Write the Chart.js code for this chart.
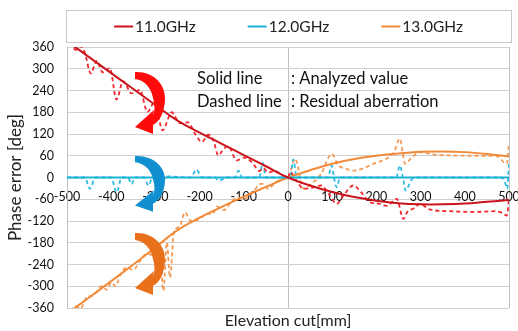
<!DOCTYPE html>
<html>
<head>
<meta charset="utf-8">
<script src="https://cdn.jsdelivr.net/npm/chart.js@4.4.0/dist/chart.umd.min.js"></script>
<style>
  html, body { margin: 0; padding: 0; background: #fff; }
</style>
</head>
<body>
<canvas id="phaseChart" width="518" height="331"></canvas>
<script>
// elevation cut [mm] for the analyzed (solid) curves
const elevation = [-500, -450, -400, -350, -300, -250, -200, -150, -100, -50, 0, 50, 100, 150, 200, 250, 300, 350, 400, 450, 500];
const analyzed11 = [376, 332, 288, 244, 200, 157, 124, 93, 62, 31, 0, -22, -40, -54, -64, -71, -74, -74, -72, -67, -62];
const analyzed12 = [0, 0, 0, 0, 0, 0, 0, 0, 0, 0, 0, 0, 0, 0, 0, 0, 0, 0, 0, 0, 0];
const analyzed13 = [-376, -331, -286, -240, -193, -145, -111, -81, -53, -26, 0, 20, 38, 51, 60, 66, 71, 72, 70, 65, 58];

// residual aberration (dashed), read at peaks and valleys
const resid11X = [-500, -490, -480, -470, -460, -446, -433, -419, -403, -388, -373, -354, -335, -318, -301, -284, -263, -245, -226, -210, -195, -180, -168, -158, -145, -135, -116, -100, -80, -65, -56, -45, -30, -15, 0, 5, 20, 35, 55, 75, 95, 110, 128, 148, 165, 185, 205, 223, 246, 261, 270, 285, 299, 320, 366, 420, 470, 485, 495, 500];
const resid11Y = [390, 365, 352, 362, 345, 287, 322, 290, 302, 215, 266, 232, 242, 181, 210, 130, 180, 150, 152, 120, 98, 118, 100, 61, 80, 86, 47, 55, 40, 18, 26, 14, 18, 8, 0, 15, -10, -31, -28, -22, -50, -73, -45, -22, -40, -68, -72, -78, -59, -114, -95, -85, -73, -88, -93, -95, -93, -98, -105, -59];

const resid12X = [-500, -460, -448, -436, -400, -388, -376, -362, -354, -346, -325, -316, -306, -294, -286, -278, -270, -220, -207, -195, -165, -158, -150, -140, -120, -112, -104, -65, -57, -50, 5, 12, 20, 90, 99, 104, 110, 118, 245, 253, 260, 266, 280, 290, 480, 490, 496, 500];
const resid12Y = [0, 0, -31, 0, 0, -41, 0, 0, -18, 0, 0, -22, 0, 0, -27, 0, 3, 0, 22, 0, 0, -8, -6, 0, 0, 19, 0, 0, 40, 0, 0, 50, 0, 0, 33, 0, -27, 0, 0, 33, 0, -36, -5, 0, 0, -10, -31, 38];

const resid13X = [-500, -490, -480, -470, -455, -440, -421, -410, -400, -390, -380, -365, -350, -335, -320, -300, -290, -282, -274, -267, -258, -245, -233, -220, -200, -185, -170, -161, -145, -130, -116, -100, -80, -60, -45, -30, -15, 0, 16, 35, 55, 75, 99, 114, 130, 148, 170, 193, 220, 240, 253, 265, 280, 299, 330, 366, 420, 470, 495, 500];
const resid13Y = [-385, -365, -355, -362, -330, -325, -299, -310, -290, -300, -270, -248, -255, -230, -211, -215, -200, -313, -179, -276, -150, -135, -96, -120, -115, -100, -100, -80, -90, -70, -55, -60, -40, -17, -31, -15, -5, 0, 52, -31, -15, 10, 65, 33, 25, 19, 25, 38, 50, 70, 107, 38, 55, 70, 63, 61, 60, 60, 38, 95];

const seriesNames = ['11.0GHz', '12.0GHz', '13.0GHz'];
const xMin = -500, xMax = 500, xStep = 100;
const yMin = -360, yMax = 360, yStep = 60;

const lineColors = ['#c8141c', '#1cb4d6', '#f28a3a'];
const dashColors = ['#f2282f', '#2ebce0', '#f49a55'];
const arrowColors = ['#ff0a0a', '#1090d0', '#e8701a'];

Chart.defaults.font.family = 'Lato';

function pts(xs, ys) {
    return xs.map((x, i) => ({x: x, y: ys[i]}));
}

const solidSets = [analyzed11, analyzed12, analyzed13].map((ys, i) => ({
    label: seriesNames[i],
    data: pts(elevation, ys),
    borderColor: lineColors[i],
    borderWidth: 2,
    pointRadius: 0,
    tension: 0.4
}));

const dashSets = [[resid11X, resid11Y], [resid12X, resid12Y], [resid13X, resid13Y]].map((d, i) => ({
    label: seriesNames[i] + ' residual',
    data: pts(d[0], d[1]),
    borderColor: dashColors[i],
    borderWidth: 1.8,
    borderDash: [4, 3],
    pointRadius: 0,
    cubicInterpolationMode: 'monotone'
}));

// curved arrow, drawn from its top-left corner
function curvedArrow(ctx, ox, oy, sy, color) {
    ctx.save();
    ctx.translate(ox, oy);
    ctx.scale(1, sy);
    ctx.beginPath();
    ctx.moveTo(0, 0);
    ctx.bezierCurveTo(18, -1, 31, 12, 30, 28);
    ctx.bezierCurveTo(29, 41, 25, 49, 18, 53);
    ctx.lineTo(18, 62);
    ctx.lineTo(0, 55);
    ctx.lineTo(19, 38);
    ctx.lineTo(18, 44);
    ctx.bezierCurveTo(20, 39, 20, 33, 18, 26);
    ctx.bezierCurveTo(16, 15, 9, 8, 0, 7);
    ctx.closePath();
    ctx.fillStyle = color;
    ctx.fill();
    ctx.restore();
}

const decorations = {
    id: 'decorations',
    afterDraw(chart) {
        const ctx = chart.ctx;
        const area = chart.chartArea;
        ctx.save();

        // legend box
        ctx.strokeStyle = '#c8c8c8';
        ctx.lineWidth = 1;
        ctx.strokeRect(66.5, 10.5, 445, 32);
        ctx.font = '15.5px Lato';
        ctx.textBaseline = 'middle';
        const lineW = 19, gapText = 2, gapItem = 52;
        const widths = seriesNames.map(n => lineW + gapText + ctx.measureText(n).width);
        const total = widths.reduce((a, b) => a + b, 0) + gapItem * (widths.length - 1);
        let lx = 66 + (445 - total) / 2;
        seriesNames.forEach((n, i) => {
            ctx.strokeStyle = lineColors[i];
            ctx.lineWidth = 2;
            ctx.beginPath();
            ctx.moveTo(lx, 26.5);
            ctx.lineTo(lx + lineW, 26.5);
            ctx.stroke();
            ctx.fillStyle = '#222';
            ctx.textAlign = 'left';
            ctx.fillText(n, lx + lineW + gapText, 27);
            lx += widths[i] + gapItem;
        });

        // annotation text
        ctx.fillStyle = '#111';
        ctx.font = '16.5px Lato';
        ctx.fillText('Solid line', 197, 79);
        ctx.fillText(': Analyzed value', 291, 79);
        ctx.fillText('Dashed line', 197, 102);
        ctx.fillText(': Residual aberration', 291, 102);

        // x axis title
        ctx.textAlign = 'center';
        ctx.font = '16px Lato';
        ctx.fillStyle = '#222';
        ctx.fillText('Elevation cut[mm]', (area.left + area.right) / 2, 321);

        // curved arrows
        curvedArrow(ctx, 135, 72, 1, arrowColors[0]);
        curvedArrow(ctx, 135, 156, 0.9, arrowColors[1]);
        curvedArrow(ctx, 135, 233, 1, arrowColors[2]);
        ctx.restore();
    }
};

new Chart(document.getElementById('phaseChart').getContext('2d'), {
    type: 'line',
    data: { datasets: solidSets.concat(dashSets) },
    options: {
        responsive: false,
        animation: false,
        layout: { padding: { top: 47, bottom: 23, right: 9, left: 0 } },
        plugins: {
            legend: { display: false },
            tooltip: { enabled: false }
        },
        scales: {
            x: {
                type: 'linear',
                position: { y: 0 },
                min: xMin,
                max: xMax,
                ticks: { stepSize: xStep, padding: 12, color: '#111', font: { size: 12.5 }, maxRotation: 0, autoSkip: false },
                grid: {
                    drawTicks: false,
                    color: c => (c.tick && (c.tick.value === 0 || c.tick.value === xMax)) ? '#c0c0c0' : 'rgba(0,0,0,0)'
                },
                border: { display: false },
                afterFit: s => { s.paddingLeft = 0; s.paddingRight = 0; }
            },
            y: {
                position: 'left',
                min: yMin,
                max: yMax,
                ticks: { stepSize: yStep, padding: 13, color: '#111', font: { size: 12.5 } },
                grid: { drawTicks: false, color: '#d0d0d0' },
                border: { display: true, color: '#c0c0c0' },
                title: { display: true, text: 'Phase error [deg]', color: '#222', font: { size: 17 }, padding: { top: 5, bottom: 0 } },
                afterFit: s => { s.width = 67; }
            }
        }
    },
    plugins: [decorations]
});
</script>
</body>
</html>
